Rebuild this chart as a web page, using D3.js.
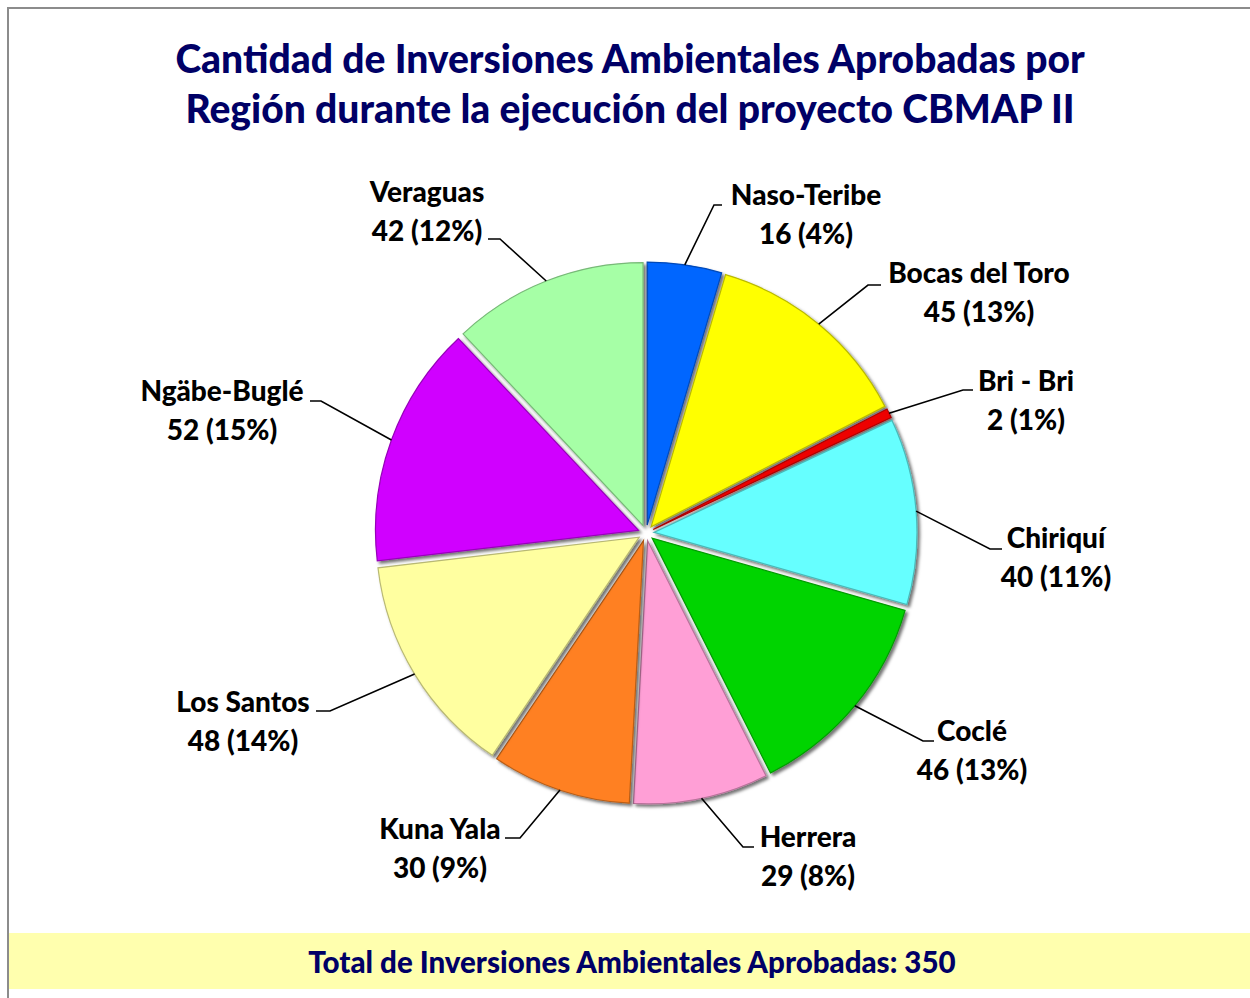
<!DOCTYPE html>
<html><head><meta charset="utf-8">
<script src="https://cdn.jsdelivr.net/npm/d3@7/dist/d3.min.js"></script>
<style>html,body{margin:0;padding:0;background:#fff;}svg{display:block;}</style>
</head><body>
<script>
// ---- data ----
const categories = ["Naso-Teribe","Bocas del Toro","Bri - Bri","Chiriquí","Coclé","Herrera","Kuna Yala","Los Santos","Ngäbe-Buglé","Veraguas"];
const values = [16,45,2,40,46,29,30,48,52,42];
const percentLabels = ["4%","13%","1%","11%","13%","8%","9%","14%","15%","12%"];
const colors = ["#0066ff","#ffff00","#ee0000","#66ffff","#00d400","#ff9fd6","#ff8020","#ffffa0","#d000ff","#a6ffa6"];
const titleLines = ["Cantidad de Inversiones Ambientales Aprobadas por","Región durante la ejecución del proyecto CBMAP II"];
const totalLabel = "Total de Inversiones Ambientales Aprobadas: " + d3.sum(values);

// ---- layout (label centers / elbows) ----
const labelLayout = [
  {x:806, y:205, ex:714, ey:205, hx:722},
  {x:979, y:283, ex:868, ey:285, hx:881},
  {x:1026,y:391, ex:963, ey:390, hx:973},
  {x:1056,y:548, ex:990, ey:549, hx:1002},
  {x:972, y:741, ex:923, ey:741, hx:934},
  {x:808, y:847, ex:743, ey:847, hx:754},
  {x:440, y:839, ex:520, ey:838, hx:505},
  {x:243, y:712, ex:330, ey:711, hx:316},
  {x:222, y:401, ex:321, ey:401, hx:310},
  {x:427, y:202, ex:500, ey:239, hx:488}
];

const W = 1250, H = 998;
const cx = 646, cy = 533, R = 263, explode = 8;
const font = "Lato, 'Open Sans', sans-serif";

const svg = d3.select("body").append("svg").attr("width", W).attr("height", H);
const defs = svg.append("defs");
const f = defs.append("filter").attr("id","shadow").attr("x","-10%").attr("y","-10%").attr("width","130%").attr("height","130%");
f.append("feDropShadow").attr("dx",2.5).attr("dy",2.5).attr("stdDeviation",1.5).attr("flood-color","#000").attr("flood-opacity",0.55);

// frame
svg.append("rect").attr("x",8).attr("y",8).attr("width",1260).attr("height",1010)
  .attr("fill","#fff").attr("stroke","#8c8c8c").attr("stroke-width",2);

// title
svg.append("g").selectAll("text").data(titleLines).join("text")
  .attr("x",630).attr("y",(d,i)=>73 + i*50)
  .attr("text-anchor","middle").attr("font-family",font).attr("font-weight",900)
  .attr("font-size",39).attr("fill","#000066").text(d=>d);

// pie
const pie = d3.pie().sort(null).value(d=>d).startAngle(0).endAngle(2*Math.PI);
const arcs = pie(values);
const arc = d3.arc().innerRadius(0).outerRadius(R);
const g = svg.append("g").attr("transform",`translate(${cx},${cy})`);

g.selectAll("path").data(arcs).join("path")
  .attr("d",arc)
  .attr("transform",d=>{const a=(d.startAngle+d.endAngle)/2;return `translate(${explode*Math.sin(a)},${-explode*Math.cos(a)})`;})
  .attr("fill",(d,i)=>colors[i])
  .attr("stroke",(d,i)=>d3.color(colors[i]).darker(0.9))
  .attr("stroke-width",1.2)
  .attr("filter","url(#shadow)");

// leaders & labels
const lg = svg.append("g");
arcs.forEach((d,i)=>{
  const a=(d.startAngle+d.endAngle)/2;
  const sx = cx + (R+explode)*Math.sin(a), sy = cy - (R+explode)*Math.cos(a);
  const L = labelLayout[i];
  lg.append("path").attr("d",`M${sx},${sy}L${L.ex},${L.ey}L${L.hx},${L.ey}`)
    .attr("fill","none").attr("stroke","#000").attr("stroke-width",1.6);
  const t = lg.append("text").attr("text-anchor","middle").attr("font-family",font)
    .attr("font-weight",900).attr("font-size",28).attr("fill","#000");
  t.append("tspan").attr("x",L.x).attr("y",L.y).text(categories[i]);
  t.append("tspan").attr("x",L.x).attr("y",L.y+38.5).text(`${values[i]} (${percentLabels[i]})`);
});

// total banner
svg.append("rect").attr("x",9).attr("y",933).attr("width",1241).attr("height",56).attr("fill","#ffffae");
svg.append("text").attr("x",632).attr("y",973).attr("text-anchor","middle")
  .attr("font-family",font).attr("font-weight",900).attr("font-size",29.5)
  .attr("fill","#000066").text(totalLabel);
</script>
</body></html>
